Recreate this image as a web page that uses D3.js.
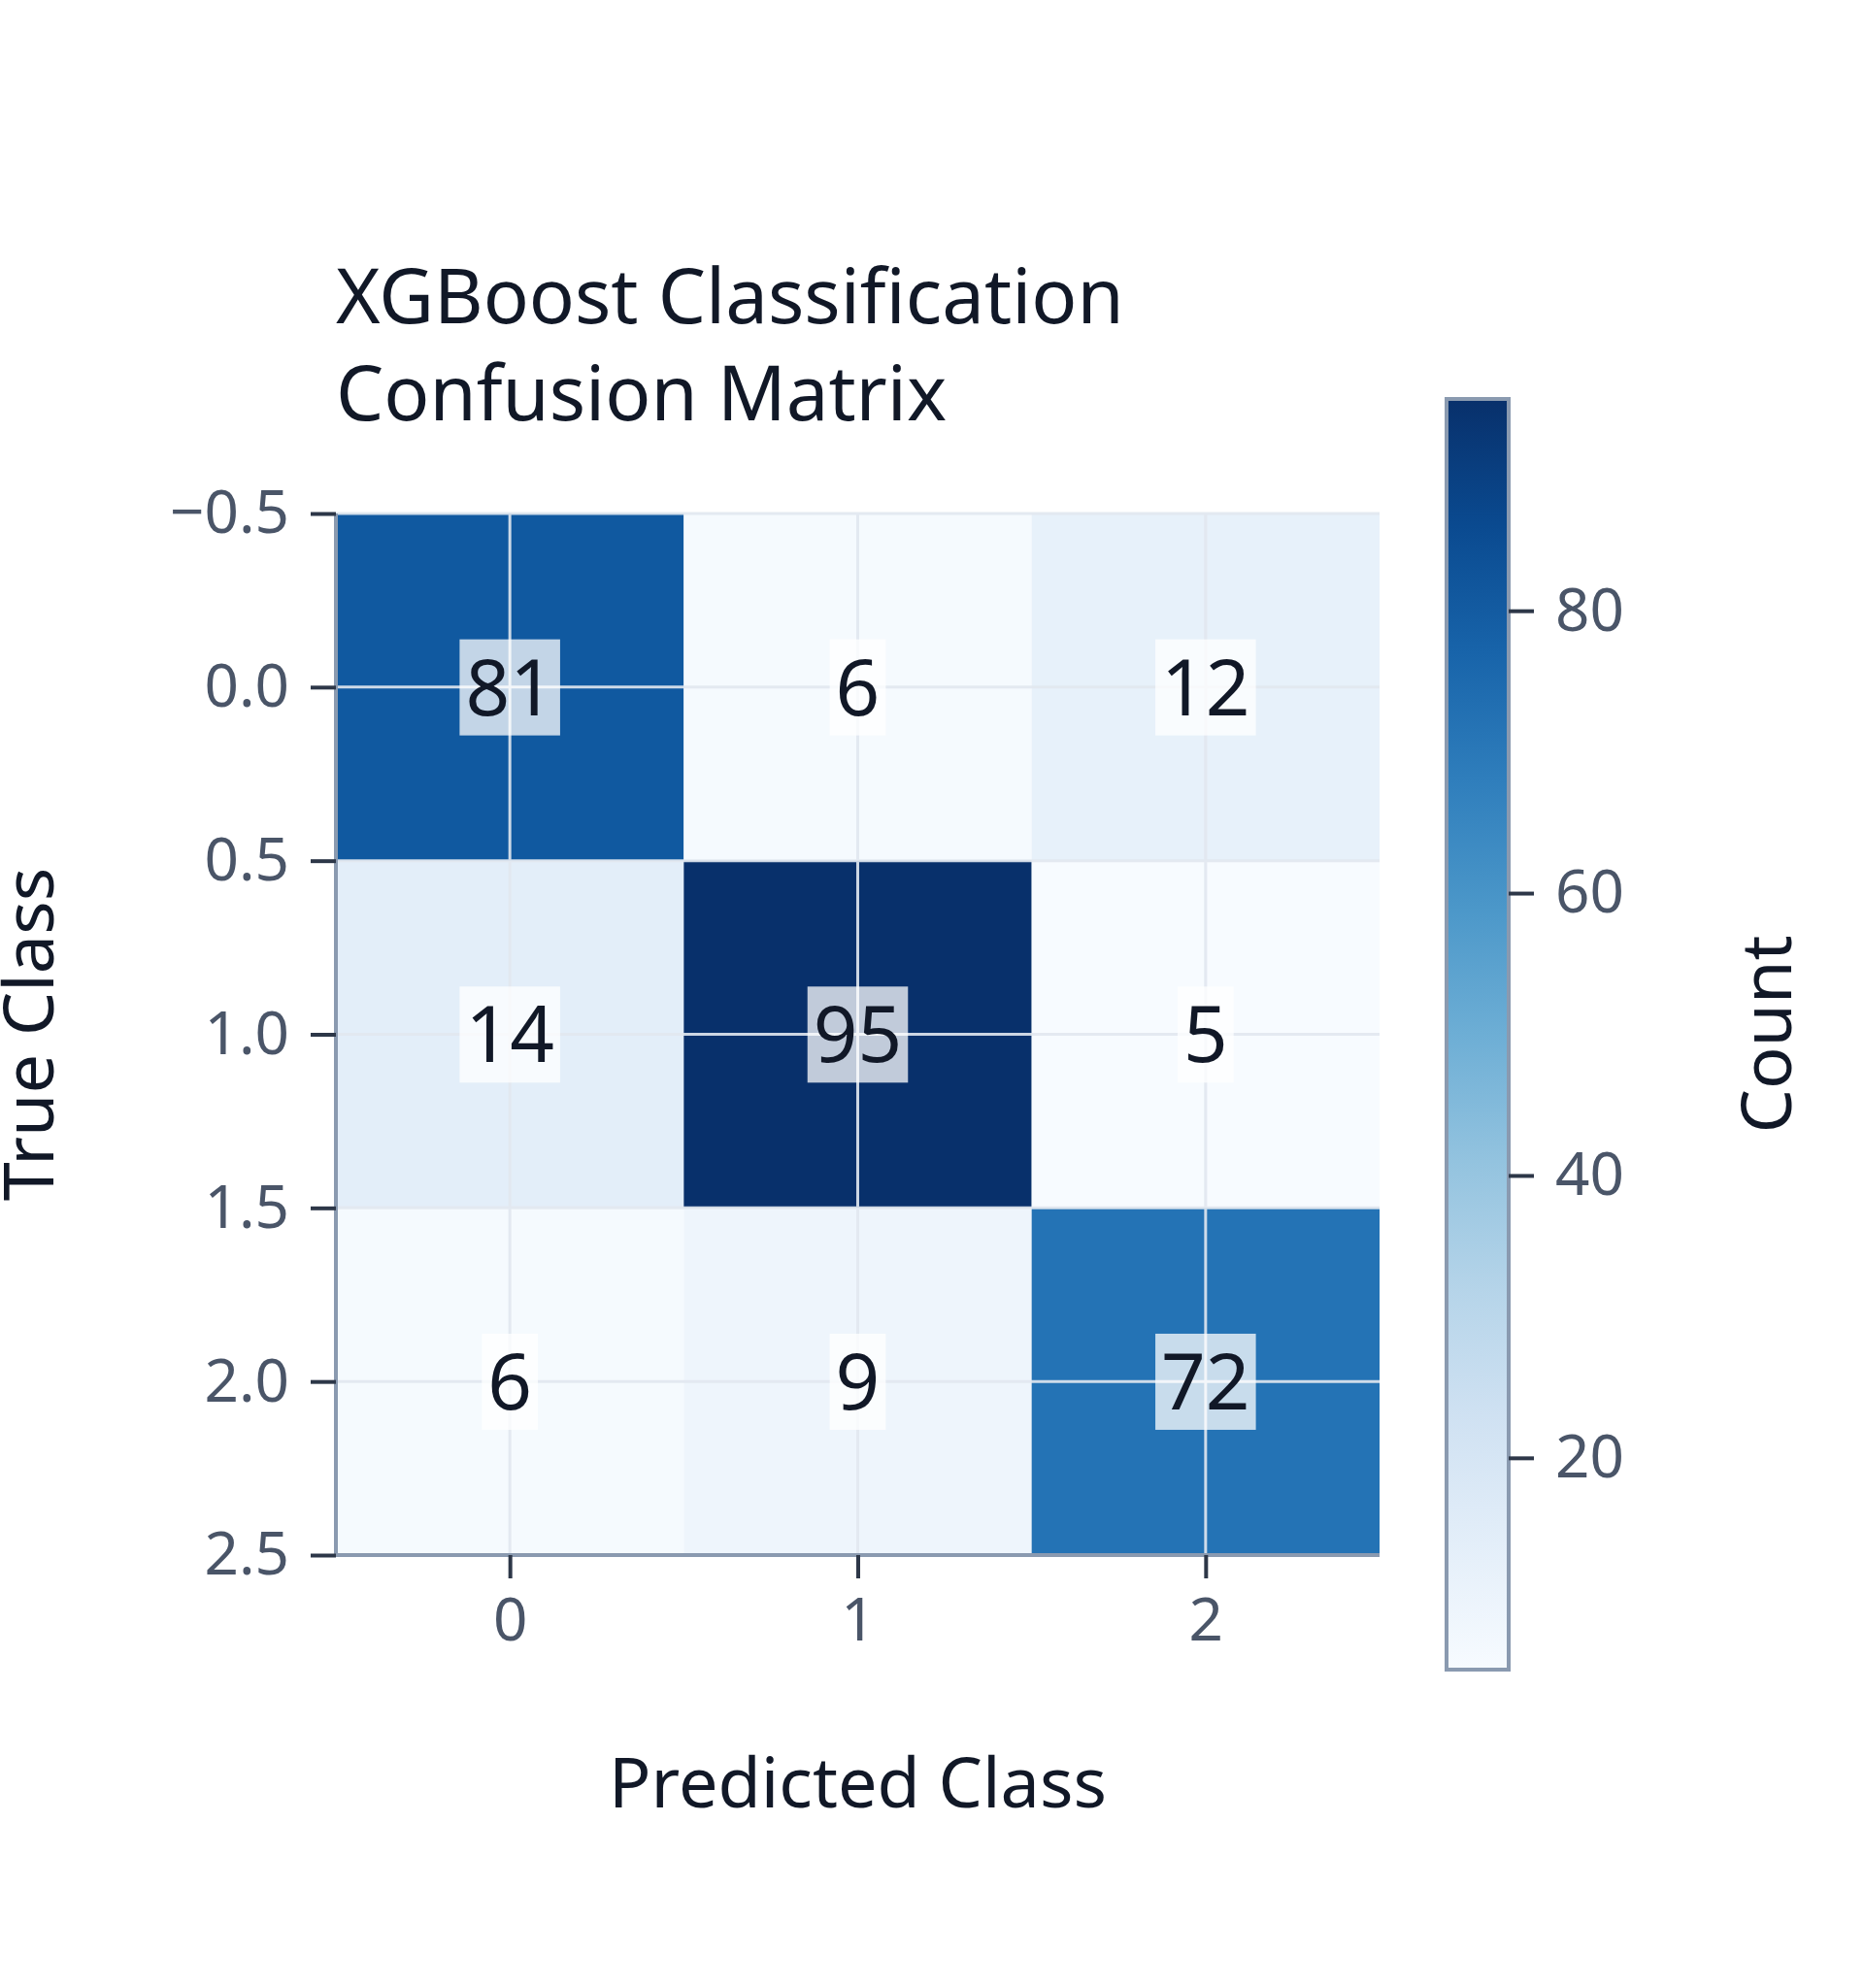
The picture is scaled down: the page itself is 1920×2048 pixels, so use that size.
<!DOCTYPE html>
<html>
<head>
<meta charset="utf-8">
<script src="https://cdn.jsdelivr.net/npm/d3@7"></script>
<style>
  body { margin: 0; background: #fff; }
  text { font-family: "Noto Sans", sans-serif; }
</style>
</head>
<body>
<svg id="chart" width="1920" height="2048"></svg>
<script>
// confusion matrix values (rows = true class, cols = predicted class)
const classes = [0, 1, 2];
const row0 = [81, 6, 12];
const row1 = [14, 95, 5];
const row2 = [6, 9, 72];
const matrix = [row0, row1, row2];
const yTicks = [-0.5, 0.0, 0.5, 1.0, 1.5, 2.0, 2.5];
const cbTicks = [20, 40, 60, 80];

const svg = d3.select("#chart");
const plotLeft = 346, plotRight = 1421, plotTop = 529, plotBottom = 1602;

const x = d3.scaleLinear().domain([-0.5, 2.5]).range([plotLeft, plotRight]);
const y = d3.scaleLinear().domain([-0.5, 2.5]).range([plotTop, plotBottom]);
const allVals = matrix.flat();
const color = d3.scaleSequential(d3.interpolateBlues).domain([d3.min(allVals), d3.max(allVals)]);

// cells
const cells = [];
matrix.forEach((row, r) => row.forEach((v, c) => cells.push({ r, c, v })));
svg.append("g").selectAll("rect").data(cells).enter().append("rect")
    .attr("x", d => x(d.c - 0.5))
    .attr("y", d => y(d.r - 0.5))
    .attr("width", x(1) - x(0))
    .attr("height", y(1) - y(0))
    .attr("fill", d => color(d.v));

// grid lines on top of cells
const grid = svg.append("g").attr("stroke", "#e2e8f0").attr("stroke-width", 3).attr("opacity", 0.9);
classes.forEach(c => grid.append("line").attr("x1", x(c)).attr("x2", x(c)).attr("y1", plotTop).attr("y2", plotBottom));
yTicks.forEach(t => grid.append("line").attr("x1", plotLeft).attr("x2", plotRight).attr("y1", y(t)).attr("y2", y(t)));

// cell annotations
const ann = svg.append("g").selectAll("g").data(cells).enter().append("g");
ann.append("text")
    .attr("x", d => x(d.c)).attr("y", d => y(d.r))
    .attr("dy", "0.36em").attr("text-anchor", "middle")
    .attr("font-size", 80).attr("fill", "#111827")
    .text(d => d.v)
    .each(function () {
        const b = this.getBBox();
        d3.select(this.parentNode).insert("rect", "text")
            .attr("x", b.x - 6).attr("y", b.y + 8)
            .attr("width", b.width + 12).attr("height", b.height - 10)
            .attr("fill", "#fff").attr("opacity", 0.75);
    });

// axes
const axisColor = "#8a9ab0", tickText = "#4a5568";
const xAxis = svg.append("g").attr("transform", `translate(0,${plotBottom})`)
    .call(d3.axisBottom(x).tickValues(classes).tickFormat(d3.format("d")).tickSize(24).tickPadding(20));
const yAxis = svg.append("g").attr("transform", `translate(${plotLeft},0)`)
    .call(d3.axisLeft(y).tickValues(yTicks).tickFormat(d => d3.format(".1f")(d).replace("-", "\u2212")).tickSize(26).tickPadding(22));
[xAxis, yAxis].forEach(a => {
    a.select(".domain").attr("stroke", axisColor).attr("stroke-width", 4);
    a.selectAll(".tick line").attr("stroke", "#2d3748").attr("stroke-width", 4);
    a.selectAll(".tick text").attr("font-size", 62).attr("fill", tickText).attr("font-family", "Noto Sans");
});
xAxis.select(".domain").attr("d", `M${plotLeft},0H${plotRight}`);
yAxis.select(".domain").attr("d", `M0,${plotTop}V${plotBottom}`);

// labels
svg.append("text").attr("x", (plotLeft + plotRight) / 2).attr("y", 1862).attr("text-anchor", "middle")
    .attr("font-size", 72).attr("fill", "#111827").text("Predicted Class");
svg.append("text").attr("transform", `translate(55,${(plotTop + plotBottom) / 2}) rotate(-90)`).attr("text-anchor", "middle")
    .attr("font-size", 72).attr("fill", "#111827").text("True Class");
const title = svg.append("text").attr("x", plotLeft).attr("font-size", 78).attr("fill", "#111827");
title.append("tspan").attr("x", plotLeft).attr("y", 333).text("XGBoost Classification");
title.append("tspan").attr("x", plotLeft).attr("y", 433).text("Confusion Matrix");

// colorbar
const cbX = 1490, cbW = 64, cbTop = 411, cbBottom = 1720;
const cb = d3.scaleLinear().domain(color.domain()).range([cbBottom, cbTop]);
const defs = svg.append("defs");
const grad = defs.append("linearGradient").attr("id", "cbgrad").attr("x1", 0).attr("x2", 0).attr("y1", 1).attr("y2", 0);
d3.range(0, 1.001, 0.1).forEach(t => grad.append("stop").attr("offset", t).attr("stop-color", d3.interpolateBlues(t)));
svg.append("rect").attr("x", cbX).attr("y", cbTop).attr("width", cbW).attr("height", cbBottom - cbTop)
    .attr("fill", "url(#cbgrad)").attr("stroke", axisColor).attr("stroke-width", 4);
const cbAxis = svg.append("g").attr("transform", `translate(${cbX + cbW},0)`)
    .call(d3.axisRight(cb).tickValues(cbTicks).tickSize(26).tickPadding(22));
cbAxis.select(".domain").remove();
cbAxis.selectAll(".tick line").attr("stroke", "#2d3748").attr("stroke-width", 4);
cbAxis.selectAll(".tick text").attr("font-size", 62).attr("fill", tickText).attr("font-family", "Noto Sans");
svg.append("text").attr("transform", `translate(1845,${(cbTop + cbBottom) / 2}) rotate(-90)`).attr("text-anchor", "middle")
    .attr("font-size", 72).attr("fill", "#111827").text("Count");
</script>
</body>
</html>
